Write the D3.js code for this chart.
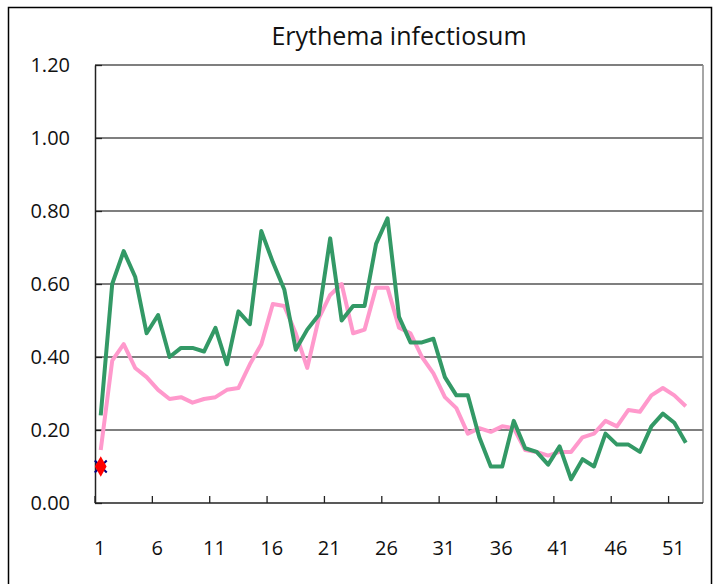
<!DOCTYPE html>
<html><head><meta charset="utf-8">
<script src="https://cdn.jsdelivr.net/npm/d3@7"></script>
<style>body{margin:0;background:#fff}svg{display:block}</style>
</head><body>
<script>
const weeks = d3.range(1, 54);
const tickWeeks = [1, 6, 11, 16, 21, 26, 31, 36, 41, 46, 51];
const yTicks = [0, 0.2, 0.4, 0.6, 0.8, 1.0, 1.2];
const greenValues = [0.24,0.60,0.69,0.62,0.465,0.515,0.40,0.425,0.425,0.415,0.48,0.38,0.525,0.49,0.745,0.66,0.585,0.42,0.475,0.515,0.725,0.50,0.54,0.54,0.71,0.78,0.51,0.44,0.44,0.45,0.345,0.295,0.295,0.18,0.10,0.10,0.225,0.15,0.14,0.105,0.155,0.065,0.12,0.10,0.19,0.16,0.16,0.14,0.21,0.245,0.22,0.165];
const pinkValues = [0.145,0.39,0.435,0.37,0.345,0.31,0.285,0.29,0.275,0.285,0.29,0.31,0.315,0.38,0.435,0.545,0.54,0.465,0.37,0.505,0.57,0.60,0.465,0.475,0.59,0.59,0.48,0.465,0.40,0.355,0.29,0.26,0.19,0.205,0.195,0.21,0.205,0.145,0.14,0.13,0.14,0.14,0.18,0.19,0.225,0.21,0.255,0.25,0.295,0.315,0.295,0.265];
const currentValues = [0.10];
const title = "Erythema infectiosum";

const W = 720, H = 584;
const pLeft = 95, pRight = 703, pTop = 65, pBottom = 503;
const font = "'Open Sans', 'DejaVu Sans', sans-serif";

const svg = d3.select("body").append("svg").attr("width", W).attr("height", H);

// outer frame
svg.append("rect").attr("x", 8.5).attr("y", 7.5).attr("width", 703).attr("height", 600)
  .attr("fill", "#fff").attr("stroke", "#000").attr("stroke-width", 1.5);

const x = d3.scaleBand().domain(weeks).range([pLeft, pRight]).padding(0);
const y = d3.scaleLinear().domain([0, 1.2]).range([pBottom, pTop]);
const cx = d => x(d) + x.bandwidth() / 2;

// gridlines
svg.append("g").selectAll("line").data(yTicks.filter(d => d > 0)).join("line")
  .attr("x1", pLeft).attr("x2", pRight).attr("y1", d => y(d)).attr("y2", d => y(d))
  .attr("stroke", "#555").attr("stroke-width", 1.3);

// plot border right
svg.append("line").attr("x1", pRight).attr("x2", pRight).attr("y1", pTop).attr("y2", pBottom)
  .attr("stroke", "#888").attr("stroke-width", 1.5);

// y axis
const yAxis = svg.append("g").attr("transform", `translate(${pLeft},0)`)
  .call(d3.axisLeft(y).tickValues(yTicks).tickFormat(d3.format(".2f")).tickSizeInner(-7).tickSizeOuter(0).tickPadding(25));
yAxis.select(".domain").attr("stroke", "#222").attr("stroke-width", 1.5);
yAxis.selectAll(".tick line").attr("stroke", "#222").attr("stroke-width", 1.3);
yAxis.selectAll("text").attr("font-family", font).attr("font-size", 20).attr("fill", "#111").attr("dy", "0.3em");

// x axis
const xg = svg.append("g");
xg.append("line").attr("x1", pLeft).attr("x2", pRight).attr("y1", pBottom).attr("y2", pBottom)
  .attr("stroke", "#222").attr("stroke-width", 1.5);
xg.selectAll("line.tk").data(tickWeeks).join("line").attr("class", "tk")
  .attr("x1", d => x(d)).attr("x2", d => x(d)).attr("y1", pBottom).attr("y2", pBottom - 7)
  .attr("stroke", "#222").attr("stroke-width", 1.3);
xg.selectAll("text").data(tickWeeks).join("text")
  .attr("x", d => cx(d) - 1).attr("y", 555).attr("text-anchor", "middle")
  .attr("font-family", font).attr("font-size", 20).attr("fill", "#111").text(d => d);

// lines
const line = d3.line().x((d, i) => cx(weeks[i])).y(d => y(d));
svg.append("path").datum(pinkValues).attr("d", line).attr("fill", "none")
  .attr("stroke", "#FF99CC").attr("stroke-width", 4).attr("stroke-linejoin", "round");
svg.append("path").datum(greenValues).attr("d", line).attr("fill", "none")
  .attr("stroke", "#339966").attr("stroke-width", 4).attr("stroke-linejoin", "round");

// current marker: blue X behind red diamond
currentValues.forEach((v, i) => {
  const px = cx(weeks[i]), py = y(v);
  svg.append("path").attr("d", `M${px-6},${py-6}L${px+6},${py+6}M${px-6},${py+6}L${px+6},${py-6}`)
    .attr("stroke", "#000080").attr("stroke-width", 2);
  svg.append("path").attr("d", d3.symbol(d3.symbolDiamond, 120)()).attr("transform", `translate(${px},${py})`)
    .attr("fill", "#FF0000");
});

// title
svg.append("text").attr("x", 399).attr("y", 45).attr("text-anchor", "middle")
  .attr("font-family", font).attr("font-size", 25).attr("fill", "#111").text(title);
</script>
</body></html>
